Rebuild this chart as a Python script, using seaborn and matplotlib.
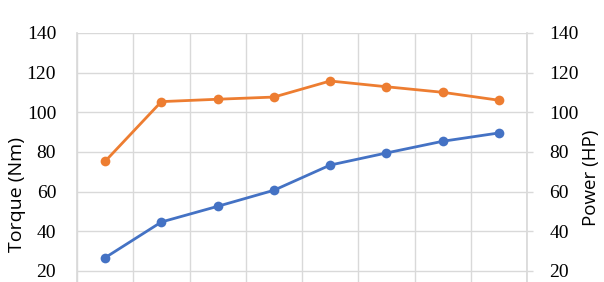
import matplotlib
matplotlib.use("Agg")
import matplotlib.pyplot as plt
import seaborn as sns
import pandas as pd
import numpy as np

sns.set_theme(style="white")

points = [1, 2, 3, 4, 5, 6, 7, 8]
torque = [75.3, 105.4, 106.6, 107.7, 115.8, 112.9, 110.1, 106.1]
power = [26.7, 44.7, 52.6, 60.7, 73.4, 79.5, 85.4, 89.6]
yticks = [20, 40, 60, 80, 100, 120, 140]

orange = "#ED7D31"
blue = "#4472C4"
grid = "#D9D9D9"

df = pd.DataFrame({"x": np.arange(len(points)), "torque": torque, "power": power})

fig = plt.figure(figsize=(6.04, 2.82), dpi=100)
ax = fig.add_axes([77 / 604, 0.0, 450 / 604, 1 - 33 / 282])
ax2 = ax.twinx()

sns.lineplot(data=df, x="x", y="torque", ax=ax, color=orange, linewidth=2,
             marker="o", markersize=7, markeredgewidth=0)
sns.lineplot(data=df, x="x", y="power", ax=ax2, color=blue, linewidth=2,
             marker="o", markersize=7, markeredgewidth=0)

ylim = (14.45, 140)
for a in (ax, ax2):
    a.set_ylim(*ylim)
    a.set_xlim(-0.5, len(points) - 0.5)
    a.set_yticks(yticks)
    a.set_xlabel("")

ax.set_xticks(np.arange(len(points) + 1) - 0.5)
ax.set_xticklabels([])
ax.tick_params(axis="x", length=0)
ax.grid(True, color=grid, linewidth=1)
ax.set_axisbelow(True)

serif = ["Liberation Serif", "DejaVu Serif"]
ax.set_yticklabels([str(t) for t in yticks], family=serif, fontsize=14, color="black")
ax2.set_yticklabels([str(t) for t in yticks], family=serif, fontsize=14, color="black")
ax.tick_params(axis="y", length=0, pad=15)
ax2.tick_params(axis="y", length=4, width=1, color=grid, pad=12, right=True, direction="out")

ax.set_ylabel("Torque (Nm)", family=["Open Sans", "DejaVu Sans"], fontsize=14, color="black")
ax2.set_ylabel("Power (HP)", family=["Open Sans", "DejaVu Sans"], fontsize=13.5, color="black")
ax.yaxis.set_label_coords(-51 / 450, 0.35)
ax2.yaxis.set_label_coords(1 + 55 / 450, 0.42)

for a in (ax, ax2):
    for s in a.spines.values():
        s.set_visible(False)
ax.spines["left"].set_visible(True)
ax.spines["left"].set_color(grid)
ax2.spines["right"].set_visible(True)
ax2.spines["right"].set_color(grid)

fig.savefig("out.png", dpi=100)
